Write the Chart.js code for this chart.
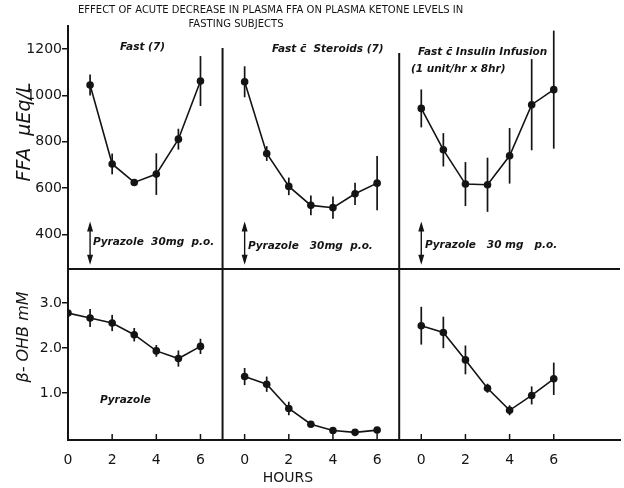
<!DOCTYPE html>
<html>
<head>
<meta charset="utf-8">
<script src="https://cdn.jsdelivr.net/npm/chart.js@4.4.1/dist/chart.umd.min.js"></script>
<style>
  body { margin: 0; background: #fff; }
  #wrap { width: 624px; height: 488px; }
</style>
</head>
<body>
<div id="wrap"><canvas id="ketoneChart" width="624" height="488"></canvas></div>
<script>
// Dados (media +/- EPM)
const hours = [0, 1, 2, 3, 4, 5, 6];
const hoursFastFfa = [1, 2, 3, 4, 5, 6];

const ffaFast = [1045, 704, 624, 660, 811, 1062];
const ffaFastErr = [45, 45, 15, 90, 45, 108];
const ffaSteroids = [1059, 749, 607, 525, 515, 575, 621];
const ffaSteroidsErr = [67, 32, 38, 43, 48, 48, 117];
const ffaInsulin = [944, 765, 617, 614, 739, 960, 1025];
const ffaInsulinErr = [82, 72, 95, 117, 120, 197, 255];

const ohbFast = [2.78, 2.67, 2.56, 2.30, 1.94, 1.77, 2.04];
const ohbFastErr = [0.10, 0.20, 0.18, 0.15, 0.13, 0.18, 0.17];
const ohbSteroids = [1.37, 1.20, 0.66, 0.31, 0.17, 0.13, 0.18];
const ohbSteroidsErr = [0.19, 0.17, 0.15, 0.06, 0.04, 0.03, 0.04];
const ohbInsulin = [2.50, 2.35, 1.74, 1.11, 0.62, 0.95, 1.32];
const ohbInsulinErr = [0.42, 0.35, 0.32, 0.10, 0.11, 0.20, 0.36];

const ffaTicks = [400, 600, 800, 1000, 1200];
const ohbTicks = [1.0, 2.0, 3.0];
const hourTicks = [0, 2, 4, 6];

const ink = '#141414';
const sans = '"DejaVu Sans", sans-serif';
const tickFont = { family: sans, size: 14 };

function points(xs, ys) {
    return xs.map((x, i) => ({ x: x, y: ys[i] }));
}

function series(xs, ys, errs, xAxisID, yAxisID) {
    return {
        data: points(xs, ys),
        errors: errs,
        xAxisID: xAxisID,
        yAxisID: yAxisID,
        borderColor: ink,
        borderWidth: 1.6,
        pointRadius: 3.8,
        pointBackgroundColor: ink,
        pointBorderWidth: 0,
        tension: 0
    };
}

function hourAxis(min, max, weight) {
    return {
        type: 'linear',
        position: 'bottom',
        stack: 'hours',
        stackWeight: max - min,
        weight: weight,
        min: min,
        max: max,
        afterBuildTicks: s => { s.ticks = hourTicks.map(v => ({ value: v })); },
        afterFit: s => { s.height = 48; },
        grid: { display: false },
        border: { display: true, color: ink, width: 2 },
        ticks: { color: ink, font: tickFont, padding: 4, maxRotation: 0, autoSkip: false }
    };
}

function valueAxis(min, max, weight, size, tickValues, fmt) {
    return {
        type: 'linear',
        position: 'left',
        stack: 'conc',
        stackWeight: size,
        weight: weight,
        min: min,
        max: max,
        afterBuildTicks: s => { s.ticks = tickValues.map(v => ({ value: v })); },
        afterFit: s => { s.width = 68; },
        grid: { display: true, drawOnChartArea: false, drawTicks: true, tickLength: 6, color: ink, lineWidth: 1.5 },
        border: { display: true, color: ink, width: 2 },
        ticks: { color: ink, font: tickFont, padding: 0, callback: fmt }
    };
}

// Barras de erro verticais
const errorBars = {
    id: 'errorBars',
    afterDatasetsDraw(chart) {
        const ctx = chart.ctx;
        ctx.save();
        ctx.strokeStyle = ink;
        ctx.lineWidth = 1.7;
        chart.data.datasets.forEach(ds => {
            const xs = chart.scales[ds.xAxisID];
            const ys = chart.scales[ds.yAxisID];
            ds.data.forEach((p, j) => {
                const e = ds.errors[j];
                const x = xs.getPixelForValue(p.x);
                ctx.beginPath();
                ctx.moveTo(x, ys.getPixelForValue(p.y + e));
                ctx.lineTo(x, ys.getPixelForValue(p.y - e));
                ctx.stroke();
            });
        });
        ctx.restore();
    }
};

// Textos, divisorias e setas
const notes = {
    id: 'notes',
    afterDraw(chart) {
        const ctx = chart.ctx;
        const s = chart.scales;
        const area = chart.chartArea;
        ctx.save();
        ctx.fillStyle = ink;
        ctx.strokeStyle = ink;

        // divisorias
        ctx.lineWidth = 2;
        const hy = s.yTop.bottom;
        ctx.beginPath();
        ctx.moveTo(area.left, hy);
        ctx.lineTo(area.right, hy);
        ctx.stroke();
        [['x2', 1205], ['x3', 1183]].forEach(([id, top]) => {
            const x = s[id].left;
            ctx.beginPath();
            ctx.moveTo(x, s.yTop.getPixelForValue(top));
            ctx.lineTo(x, area.bottom);
            ctx.stroke();
        });

        // marcas do eixo das horas (para dentro)
        ctx.lineWidth = 1.5;
        ['x1', 'x2', 'x3'].forEach(id => {
            hourTicks.forEach(v => {
                const x = s[id].getPixelForValue(v);
                ctx.beginPath();
                ctx.moveTo(x, area.bottom);
                ctx.lineTo(x, area.bottom - 6);
                ctx.stroke();
            });
        });

        // setas duplas (pirazol)
        [['x1', 1], ['x2', 0], ['x3', 0]].forEach(([id, h]) => {
            const x = s[id].getPixelForValue(h);
            const y0 = s.yTop.getPixelForValue(455);
            const y1 = s.yTop.getPixelForValue(268);
            ctx.lineWidth = 1.4;
            ctx.beginPath();
            ctx.moveTo(x, y0 + 3);
            ctx.lineTo(x, y1 - 3);
            ctx.stroke();
            ctx.beginPath();
            ctx.moveTo(x, y0); ctx.lineTo(x - 3, y0 + 10); ctx.lineTo(x + 3, y0 + 10); ctx.closePath();
            ctx.moveTo(x, y1); ctx.lineTo(x - 3, y1 - 10); ctx.lineTo(x + 3, y1 - 10); ctx.closePath();
            ctx.fill();
        });

        ctx.textBaseline = 'middle';
        ctx.textAlign = 'left';
        const label = 'italic bold 10.5px ' + sans;
        const put = (text, xid, h, yid, v, font) => {
            ctx.font = font;
            ctx.fillText(text, s[xid].getPixelForValue(h), s[yid].getPixelForValue(v));
        };
        put('Fast (7)', 'x1', 2.36, 'yTop', 1209, label);
        put('Fast c\u0304  Steroids (7)', 'x2', 1.24, 'yTop', 1201, label);
        put('Fast c\u0304 Insulin Infusion', 'x3', -0.15, 'yTop', 1188, label);
        put('(1 unit/hr x 8hr)', 'x3', -0.47, 'yTop', 1114, label);
        put('Pyrazole  30mg  p.o.', 'x1', 1.13, 'yTop', 367, label);
        put('Pyrazole   30mg  p.o.', 'x2', 0.15, 'yTop', 349, label);
        put('Pyrazole   30 mg   p.o.', 'x3', 0.17, 'yTop', 354, label);
        put('Pyrazole', 'x1', 1.45, 'yBot', 0.85, label);

        // titulos dos eixos
        ctx.textAlign = 'center';
        ctx.font = 'italic 19px ' + sans;
        ctx.save();
        ctx.translate(25, 132);
        ctx.rotate(-Math.PI / 2);
        ctx.fillText('FFA  \u03BCEq/L', 0, 0);
        ctx.restore();
        ctx.font = 'italic 16px ' + sans;
        ctx.save();
        ctx.translate(24, 337);
        ctx.rotate(-Math.PI / 2);
        ctx.fillText('\u03B2- OHB mM', 0, 0);
        ctx.restore();

        ctx.font = '14px ' + sans;
        ctx.fillText('HOURS', 288, 478);

        // titulo geral: letras espacadas ate a largura do original
        const spaced = (text, cx, cy, w) => {
            ctx.font = '10px ' + sans;
            ctx.letterSpacing = '0px';
            const base = ctx.measureText(text).width;
            const gap = Math.max(0, (w - base) / (text.length - 1));
            ctx.letterSpacing = gap.toFixed(2) + 'px';
            ctx.textAlign = 'left';
            ctx.fillText(text, cx - w / 2, cy);
            ctx.letterSpacing = '0px';
        };
        spaced('EFFECT OF ACUTE DECREASE IN PLASMA FFA ON PLASMA KETONE LEVELS IN', 268, 10, 380);
        spaced('FASTING SUBJECTS', 236, 24, 95);
        ctx.restore();
    }
};

function setupChart() {
    const ctx = document.getElementById('ketoneChart').getContext('2d');
    new Chart(ctx, {
        type: 'line',
        data: {
            datasets: [
                series(hoursFastFfa, ffaFast, ffaFastErr, 'x1', 'yTop'),
                series(hours, ffaSteroids, ffaSteroidsErr, 'x2', 'yTop'),
                series(hours, ffaInsulin, ffaInsulinErr, 'x3', 'yTop'),
                series(hours, ohbFast, ohbFastErr, 'x1', 'yBot'),
                series(hours, ohbSteroids, ohbSteroidsErr, 'x2', 'yBot'),
                series(hours, ohbInsulin, ohbInsulinErr, 'x3', 'yBot')
            ]
        },
        options: {
            responsive: false,
            animation: false,
            layout: { padding: { top: 26, right: 4, left: 0, bottom: 0 } },
            plugins: {
                legend: { display: false },
                tooltip: { enabled: false },
                title: { display: false }
            },
            scales: {
                x1: hourAxis(0, 7, 0),
                x2: hourAxis(-1, 7, 1),
                x3: hourAxis(-1, 9, 2),
                yTop: valueAxis(250, 1300, 2, 243, ffaTicks, v => String(v)),
                yBot: valueAxis(-0.04, 3.76, 1, 171, ohbTicks, v => v.toFixed(1))
            }
        },
        plugins: [errorBars, notes]
    });
}

document.addEventListener('DOMContentLoaded', setupChart);
</script>
</body>
</html>
